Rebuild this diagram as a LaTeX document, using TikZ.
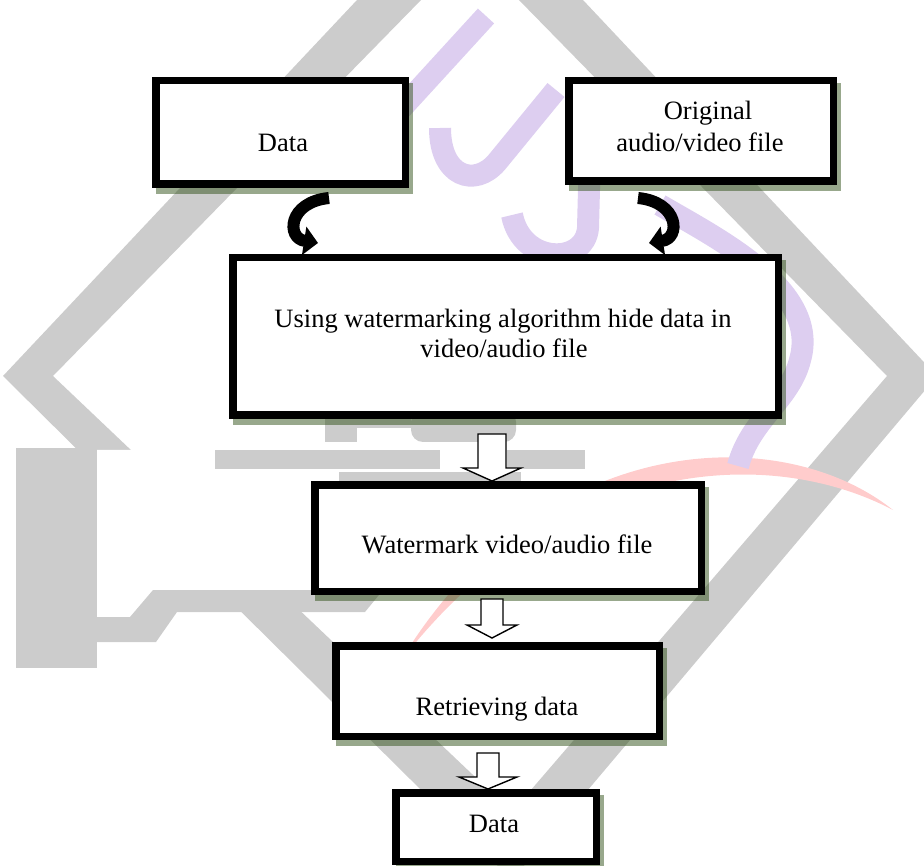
\documentclass[tikz,border=0pt]{standalone}
\usepackage{fontspec}
\setmainfont{Liberation Serif}
\usetikzlibrary{arrows.meta,calc}
\definecolor{wmgray}{RGB}{204,204,204}
\definecolor{wmpurple}{RGB}{221,206,240}
\definecolor{wmpink}{RGB}{255,204,204}
\definecolor{shadowc}{RGB}{49,81,25}
\tikzset{
  flowbox/.style={draw=black, line width=7.5pt, fill=white, inner sep=0pt, outer sep=0pt},
  boxshadow/.style={fill=shadowc, fill opacity=0.5},
  txt/.style={font=\fontsize{26.5pt}{31pt}\selectfont, inner sep=0pt, align=center},
  curvearrow/.style={line width=12pt, -{Triangle[width=28pt,length=14pt]}},
  blockarrow/.style={draw=black, line width=1.4pt, fill=white, line join=miter},
  purplestroke/.style={draw=wmpurple, line width=22pt},
}
\newcommand\flowshadow[4]{\fill[boxshadow] ({#1+4},{#2+6}) rectangle ({#3+4},{#4+6});}
\begin{document}
\begin{tikzpicture}[x=1pt,y=-1pt]
\useasboundingbox (0,0) rectangle (924,866);
\clip (0,0) rectangle (924,866);
% ---------- background watermark ----------
\fill[wmgray,even odd rule] (3,376) -- (470,-120) -- (937,376) -- (512,880) -- cycle
      (53,376) -- (470,-50) -- (887,376) -- (512,812) -- cycle;
\fill[white] (68,450) -- (142,450) -- (292,590) -- (203,590) -- cycle;
\fill[wmgray] (16,448) rectangle (97,668);
\fill[wmgray] (153,590) -- (383,590) -- (365,612) -- (177,612) -- (156,642) -- (97,642) -- (97,617) -- (130,617) -- cycle;
\fill[wmgray] (215,450) rectangle (440,469);
\fill[wmgray] (507,450) rectangle (585,469);
\fill[wmgray] (339,472) rectangle (521,482);
\fill[wmgray] (325,418) rectangle (357,442);
\fill[wmgray] (357,418) rectangle (411,428);
\fill[wmgray, rounded corners=12pt] (411,410) rectangle (516,442);
\fill[wmpink] (893,510) .. controls (780,420) and (540,430) .. (400,662)
      .. controls (560,455) and (770,445) .. (893,510) -- cycle;
\draw[purplestroke] (486,16) -- (400,110);
\draw[purplestroke] (556,90) -- (497,162) .. controls (475,188) and (440,177) .. (440,128);
\draw[purplestroke] (590,150) -- (588,228) .. controls (585,265) and (522,265) .. (512,215);
\draw[purplestroke] (660,205) .. controls (720,240) and (820,290) .. (800,360)
      .. controls (790,400) and (750,420) .. (738,466);
% ---------- shadows ----------
\flowshadow{152}{77}{409}{188}
\flowshadow{565}{77}{837}{185}
\flowshadow{229}{254}{782}{419}
\flowshadow{311}{481}{705}{595}
\flowshadow{332}{642}{663}{740}
\flowshadow{392}{789}{600}{865}
% ---------- boxes ----------
\node[flowbox, minimum width=249.5pt, minimum height=103.5pt] (data1) at (280.5,132.5) {};
\node[flowbox, minimum width=264.5pt, minimum height=100.5pt] (orig) at (701,131) {};
\node[flowbox, minimum width=545.5pt, minimum height=157.5pt] (hide) at (505.5,336.5) {};
\node[flowbox, minimum width=386.5pt, minimum height=106.5pt] (wmark) at (508,538) {};
\node[flowbox, minimum width=323.5pt, minimum height=90.5pt] (retr) at (497.5,691) {};
\node[flowbox, minimum width=200.5pt, minimum height=68.5pt] (data2) at (496,827) {};
% ---------- texts ----------
\node[txt, anchor=base] (data1t) at (283,152) {Data};
\node[txt, anchor=base] (origt1) at (708,120) {Original};
\node[txt, anchor=base] (origt2) at (700,152) {audio/video file};
\node[txt, anchor=base] (hidet1) at (503,328) {Using watermarking algorithm hide data in};
\node[txt, anchor=base] (hidet2) at (504,358) {video/audio file};
\node[txt, anchor=base] (wmarkt) at (507,553) {Watermark video/audio file};
\node[txt, anchor=base] (retrt) at (497,715) {Retrieving data};
\node[txt, anchor=base] (data2t) at (494,832) {Data};
% ---------- curved arrows ----------
\coordinate (ca1s) at (329,198);
\coordinate (ca1e) at (318,243);
\coordinate (ca2s) at (638,198);
\coordinate (ca2e) at (649,243);
\draw[curvearrow] (ca1s) .. controls (288,202) and (286,238) .. (ca1e);
\draw[curvearrow] (ca2s) .. controls (679,202) and (681,238) .. (ca2e);
% ---------- block arrows ----------
\draw[blockarrow] (478,434) -- (506,434) -- (506,468) -- (521,468) -- (492,481) -- (463,468) -- (478,468) -- cycle;
\draw[blockarrow] (481,599) -- (503,599) -- (503,625) -- (517,625) -- (492,638) -- (467,625) -- (481,625) -- cycle;
\draw[blockarrow] (477,753) -- (499,753) -- (499,777) -- (517,777) -- (488,789) -- (459,777) -- (477,777) -- cycle;
\end{tikzpicture}
\end{document}
